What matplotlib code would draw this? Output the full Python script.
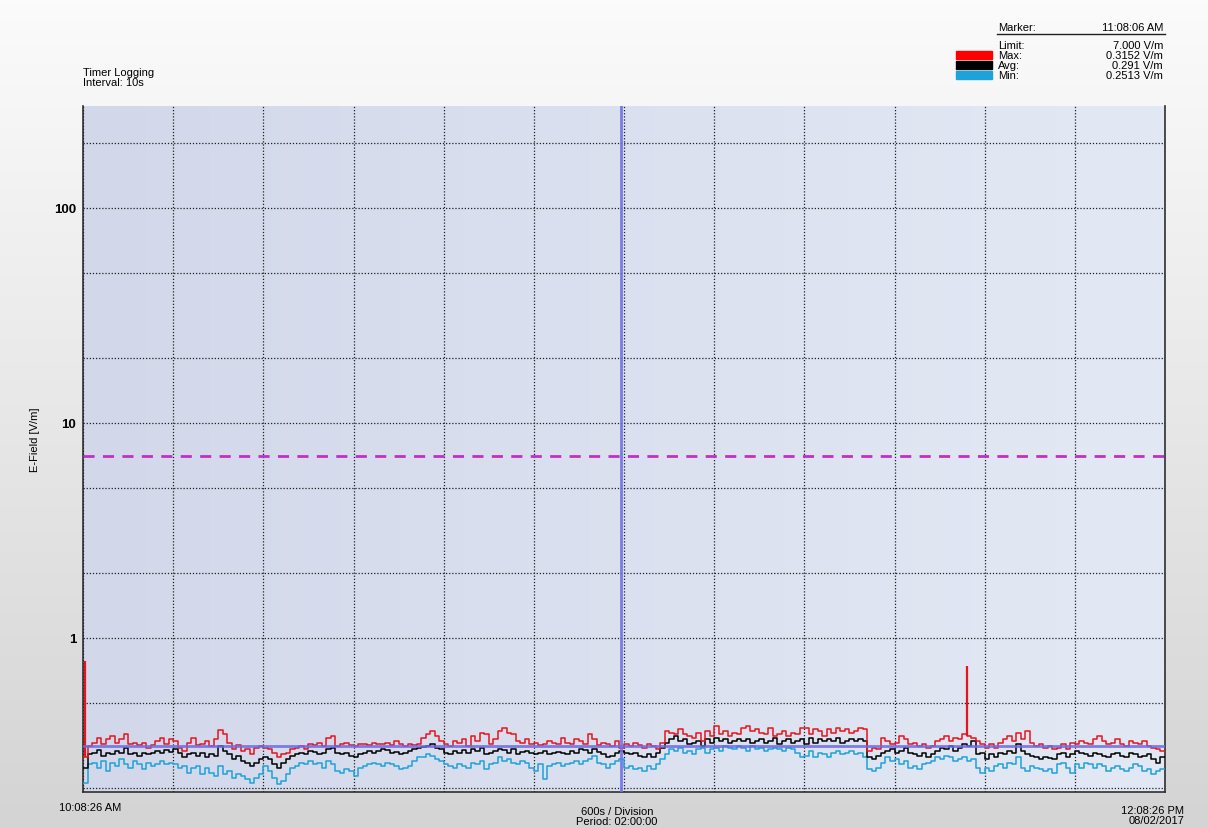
import numpy as np
import matplotlib
matplotlib.use("Agg")
import matplotlib.pyplot as plt
from matplotlib.colors import LinearSegmentedColormap

# E-field readings, one value per 30 s (V/m), 10:08:26 AM -> 12:08:26 PM
step_s = 30
max_vals = [
    0.278, 0.315, 0.326, 0.344, 0.320, 0.338, 0.350, 0.326, 0.338, 0.356,
    0.320, 0.326, 0.318, 0.326, 0.309, 0.318, 0.332, 0.344, 0.320, 0.338,
    0.332, 0.309, 0.298, 0.326, 0.344, 0.318, 0.320, 0.332, 0.315, 0.338,
    0.372, 0.356, 0.326, 0.304, 0.318, 0.298, 0.304, 0.288, 0.309, 0.315,
    0.309, 0.304, 0.293, 0.278, 0.288, 0.293, 0.304, 0.309, 0.315, 0.304,
    0.320, 0.318, 0.326, 0.315, 0.344, 0.350, 0.315, 0.320, 0.326, 0.318,
    0.315, 0.322, 0.320, 0.318, 0.326, 0.322, 0.320, 0.326, 0.318, 0.332,
    0.322, 0.315, 0.320, 0.318, 0.322, 0.344, 0.356, 0.369, 0.350, 0.332,
    0.320, 0.315, 0.332, 0.326, 0.338, 0.315, 0.350, 0.332, 0.363, 0.356,
    0.320, 0.338, 0.369, 0.383, 0.363, 0.356, 0.332, 0.326, 0.338, 0.320,
    0.326, 0.318, 0.320, 0.332, 0.326, 0.320, 0.344, 0.326, 0.320, 0.338,
    0.332, 0.320, 0.356, 0.338, 0.318, 0.326, 0.320, 0.315, 0.332, 0.309,
    0.320, 0.315, 0.326, 0.318, 0.309, 0.320, 0.315, 0.304, 0.326, 0.369,
    0.363, 0.356, 0.376, 0.356, 0.350, 0.344, 0.363, 0.332, 0.369, 0.350,
    0.390, 0.356, 0.369, 0.350, 0.363, 0.356, 0.383, 0.390, 0.369, 0.376,
    0.363, 0.356, 0.383, 0.350, 0.356, 0.369, 0.350, 0.363, 0.356, 0.383,
    0.383, 0.356, 0.376, 0.369, 0.350, 0.376, 0.363, 0.383, 0.369, 0.376,
    0.363, 0.369, 0.383, 0.376, 0.298, 0.309, 0.304, 0.344, 0.332, 0.320,
    0.326, 0.350, 0.338, 0.320, 0.326, 0.315, 0.320, 0.309, 0.315, 0.332,
    0.338, 0.350, 0.332, 0.344, 0.338, 0.356, 0.350, 0.344, 0.332, 0.320,
    0.309, 0.320, 0.309, 0.326, 0.338, 0.350, 0.332, 0.363, 0.338, 0.369,
    0.326, 0.315, 0.320, 0.309, 0.315, 0.304, 0.309, 0.320, 0.304, 0.326,
    0.320, 0.332, 0.326, 0.320, 0.338, 0.350, 0.332, 0.320, 0.326, 0.338,
    0.320, 0.315, 0.332, 0.326, 0.320, 0.332, 0.315, 0.309, 0.304, 0.298,
]
avg_vals = [
    0.249, 0.288, 0.293, 0.300, 0.283, 0.293, 0.288, 0.298, 0.293, 0.309,
    0.288, 0.293, 0.283, 0.293, 0.288, 0.290, 0.298, 0.293, 0.300, 0.296,
    0.304, 0.293, 0.278, 0.288, 0.293, 0.283, 0.293, 0.278, 0.288, 0.283,
    0.315, 0.298, 0.288, 0.273, 0.283, 0.268, 0.263, 0.254, 0.263, 0.273,
    0.278, 0.273, 0.258, 0.249, 0.263, 0.273, 0.283, 0.288, 0.293, 0.288,
    0.298, 0.296, 0.288, 0.293, 0.304, 0.309, 0.293, 0.288, 0.293, 0.283,
    0.278, 0.288, 0.293, 0.298, 0.293, 0.298, 0.304, 0.300, 0.293, 0.296,
    0.288, 0.293, 0.298, 0.304, 0.309, 0.311, 0.315, 0.320, 0.309, 0.304,
    0.293, 0.288, 0.298, 0.293, 0.300, 0.293, 0.304, 0.298, 0.309, 0.288,
    0.293, 0.298, 0.304, 0.300, 0.293, 0.304, 0.288, 0.296, 0.298, 0.293,
    0.288, 0.293, 0.298, 0.288, 0.293, 0.296, 0.293, 0.288, 0.298, 0.293,
    0.304, 0.300, 0.293, 0.304, 0.296, 0.288, 0.278, 0.283, 0.293, 0.298,
    0.293, 0.288, 0.293, 0.283, 0.278, 0.288, 0.278, 0.293, 0.309, 0.326,
    0.338, 0.350, 0.332, 0.338, 0.320, 0.326, 0.332, 0.315, 0.338, 0.326,
    0.344, 0.332, 0.338, 0.326, 0.332, 0.338, 0.332, 0.338, 0.326, 0.332,
    0.338, 0.326, 0.332, 0.344, 0.320, 0.332, 0.338, 0.326, 0.332, 0.338,
    0.320, 0.344, 0.326, 0.338, 0.332, 0.338, 0.332, 0.344, 0.326, 0.332,
    0.338, 0.332, 0.338, 0.332, 0.278, 0.273, 0.283, 0.293, 0.298, 0.304,
    0.293, 0.298, 0.309, 0.293, 0.288, 0.283, 0.293, 0.278, 0.288, 0.298,
    0.309, 0.304, 0.315, 0.298, 0.309, 0.320, 0.315, 0.332, 0.288, 0.293,
    0.273, 0.288, 0.278, 0.293, 0.288, 0.298, 0.293, 0.320, 0.298, 0.288,
    0.283, 0.278, 0.273, 0.278, 0.276, 0.273, 0.288, 0.293, 0.278, 0.288,
    0.298, 0.293, 0.288, 0.283, 0.293, 0.288, 0.283, 0.278, 0.288, 0.293,
    0.283, 0.278, 0.293, 0.288, 0.278, 0.283, 0.288, 0.273, 0.263, 0.278,
]
min_vals = [
    0.212, 0.258, 0.263, 0.249, 0.268, 0.241, 0.263, 0.254, 0.273, 0.258,
    0.249, 0.268, 0.258, 0.245, 0.263, 0.254, 0.258, 0.268, 0.258, 0.263,
    0.258, 0.249, 0.254, 0.236, 0.249, 0.254, 0.232, 0.249, 0.236, 0.228,
    0.254, 0.232, 0.241, 0.224, 0.232, 0.228, 0.220, 0.212, 0.224, 0.232,
    0.254, 0.241, 0.224, 0.209, 0.216, 0.232, 0.249, 0.254, 0.263, 0.258,
    0.268, 0.258, 0.263, 0.249, 0.268, 0.258, 0.241, 0.236, 0.245, 0.241,
    0.228, 0.249, 0.254, 0.258, 0.263, 0.258, 0.254, 0.263, 0.258, 0.254,
    0.245, 0.249, 0.254, 0.268, 0.278, 0.278, 0.288, 0.283, 0.273, 0.268,
    0.258, 0.254, 0.249, 0.258, 0.254, 0.249, 0.263, 0.258, 0.268, 0.245,
    0.258, 0.263, 0.278, 0.268, 0.273, 0.263, 0.258, 0.268, 0.263, 0.249,
    0.241, 0.258, 0.220, 0.254, 0.258, 0.263, 0.254, 0.258, 0.263, 0.268,
    0.258, 0.268, 0.273, 0.283, 0.263, 0.258, 0.249, 0.258, 0.268, 0.273,
    0.249, 0.254, 0.245, 0.249, 0.241, 0.254, 0.245, 0.258, 0.273, 0.288,
    0.304, 0.298, 0.309, 0.293, 0.298, 0.288, 0.304, 0.309, 0.293, 0.304,
    0.309, 0.298, 0.315, 0.309, 0.304, 0.315, 0.309, 0.298, 0.315, 0.304,
    0.309, 0.298, 0.304, 0.309, 0.304, 0.298, 0.309, 0.304, 0.293, 0.278,
    0.283, 0.298, 0.278, 0.293, 0.288, 0.278, 0.293, 0.298, 0.288, 0.293,
    0.298, 0.288, 0.293, 0.278, 0.245, 0.241, 0.249, 0.263, 0.278, 0.268,
    0.273, 0.258, 0.268, 0.249, 0.254, 0.245, 0.258, 0.263, 0.268, 0.278,
    0.273, 0.283, 0.278, 0.268, 0.273, 0.278, 0.268, 0.273, 0.249, 0.236,
    0.249, 0.241, 0.254, 0.258, 0.249, 0.263, 0.258, 0.278, 0.249, 0.241,
    0.254, 0.249, 0.245, 0.241, 0.245, 0.236, 0.258, 0.263, 0.249, 0.236,
    0.258, 0.249, 0.263, 0.258, 0.249, 0.258, 0.254, 0.241, 0.249, 0.254,
    0.245, 0.241, 0.249, 0.258, 0.254, 0.241, 0.245, 0.232, 0.241, 0.245,
]
# single-sample spikes on the Max trace (seconds from start, V/m)
spike_t = [10, 5880]
spike_v = [0.78, 0.74]

limit = 7.0
marker_t = 3580
marker_max = 0.3152
period_s = 7200
div_s = 600

legend_names = ["Max:", "Avg:", "Min:"]
legend_vals = ["0.3152 V/m", "0.291 V/m", "0.2513 V/m"]
c_max, c_avg, c_min = "#e8141c", "#000000", "#1ea2da"

plt.rcParams["font.family"] = ["Liberation Sans", "DejaVu Sans"]
fs = 8

W, H = 1208, 829
fig = plt.figure(figsize=(W / 100, H / 100), dpi=100)

# window background: light at top, grey at bottom
bg = fig.add_axes([0, 0, 1, 1], zorder=-10)
bg.imshow(np.linspace(0, 1, 256).reshape(-1, 1), aspect="auto",
          cmap=LinearSegmentedColormap.from_list("bgw", ["#fbfbfb", "#d4d4d4"]),
          extent=[0, 1, 0, 1])
bg.axis("off")

ax = fig.add_axes([83 / W, 1 - 793 / H, (1165 - 83) / W, (793 - 107) / H])
ax.imshow(np.linspace(0, 1, 256).reshape(1, -1), aspect="auto",
          cmap=LinearSegmentedColormap.from_list("plt", ["#d2d8ea", "#e3e9f4"]),
          extent=[0, 1, 0, 1], transform=ax.transAxes, zorder=0)

t = np.arange(len(max_vals)) * step_s
t_end = np.append(t, period_s)
for vals, col in [(min_vals, c_min), (avg_vals, c_avg), (max_vals, c_max)]:
    v = np.append(vals, vals[-1])
    ax.step(t_end, v, where="post", color=col, lw=1.1, zorder=3)
ax.vlines(spike_t, [max_vals[0], max_vals[196]], spike_v, color=c_max, lw=1.6, zorder=3)

ax.axhline(limit, color="#c030c8", lw=2, ls=(0, (4, 3)), zorder=4)
ax.axhline(marker_max, color="#6a6ae6", lw=2, alpha=0.85, zorder=4)
ax.axvline(marker_t, color="#7070e6", lw=2, alpha=0.9, zorder=4)

ax.set_yscale("log")
ax.set_xlim(0, period_s)
ax.set_ylim(0.192, 298)
ax.set_xticks(np.arange(0, period_s + 1, div_s))
ax.set_yticks([0.2, 0.5, 1, 2, 5, 10, 20, 50, 100, 200], minor=False)
ax.yaxis.set_minor_locator(matplotlib.ticker.NullLocator())
ax.set_yticklabels(["", "", "1", "", "", "10", "", "", "100", ""],
                   fontweight="bold", fontsize=9.5)
ax.set_xticklabels([])
ax.tick_params(length=0, pad=5)
ax.grid(True, color="#202020", ls=(0, (1, 1.5)), lw=0.9, zorder=2)
ax.set_axisbelow(False)
for s in ["left", "bottom", "right"]:
    ax.spines[s].set_color("#303030")
    ax.spines[s].set_linewidth(1.2)
ax.spines["top"].set_visible(False)

fig.text(35 / W, 1 - 440 / H, "E-Field [V/m]", rotation=90, ha="center", va="center", fontsize=fs)
fig.text(83 / W, 1 - 78 / H, "Timer Logging\nInterval: 10s", ha="left", va="center",
         fontsize=fs, linespacing=0.95)
fig.text(90 / W, 1 - 808 / H, "10:08:26 AM", ha="center", va="center", fontsize=fs)
fig.text(617 / W, 1 - 817 / H, "600s / Division\nPeriod: 02:00:00", ha="center", va="center",
         fontsize=fs, linespacing=0.95)
fig.text(1184 / W, 1 - 816 / H, "12:08:26 PM\n08/02/2017", ha="right", va="center",
         fontsize=fs, linespacing=0.95)

# marker readout
fig.text(998 / W, 1 - 28 / H, "Marker:", ha="left", va="center", fontsize=fs)
fig.text(1163 / W, 1 - 28 / H, "11:08:06 AM", ha="right", va="center", fontsize=fs)
fig.add_artist(plt.Line2D([997 / W, 1165 / W], [1 - 35 / H, 1 - 35 / H], color="#202020", lw=1))
fig.text(998 / W, 1 - 46 / H, "Limit:", ha="left", va="center", fontsize=fs)
fig.text(1163 / W, 1 - 46 / H, "7.000 V/m", ha="right", va="center", fontsize=fs)
for i, (nm, val, col) in enumerate(zip(legend_names, legend_vals, [c_max, c_avg, c_min])):
    y = 56 + i * 10
    fig.text(998 / W, 1 - y / H, nm, ha="left", va="center", fontsize=fs)
    fig.text(1163 / W, 1 - y / H, val, ha="right", va="center", fontsize=fs)
    fig.add_artist(plt.Rectangle((956 / W, 1 - (y + 4) / H), 36 / W, 8 / H,
                                 color="#ff0000" if i == 0 else col, transform=fig.transFigure))

fig.savefig("out.png", dpi=100)
